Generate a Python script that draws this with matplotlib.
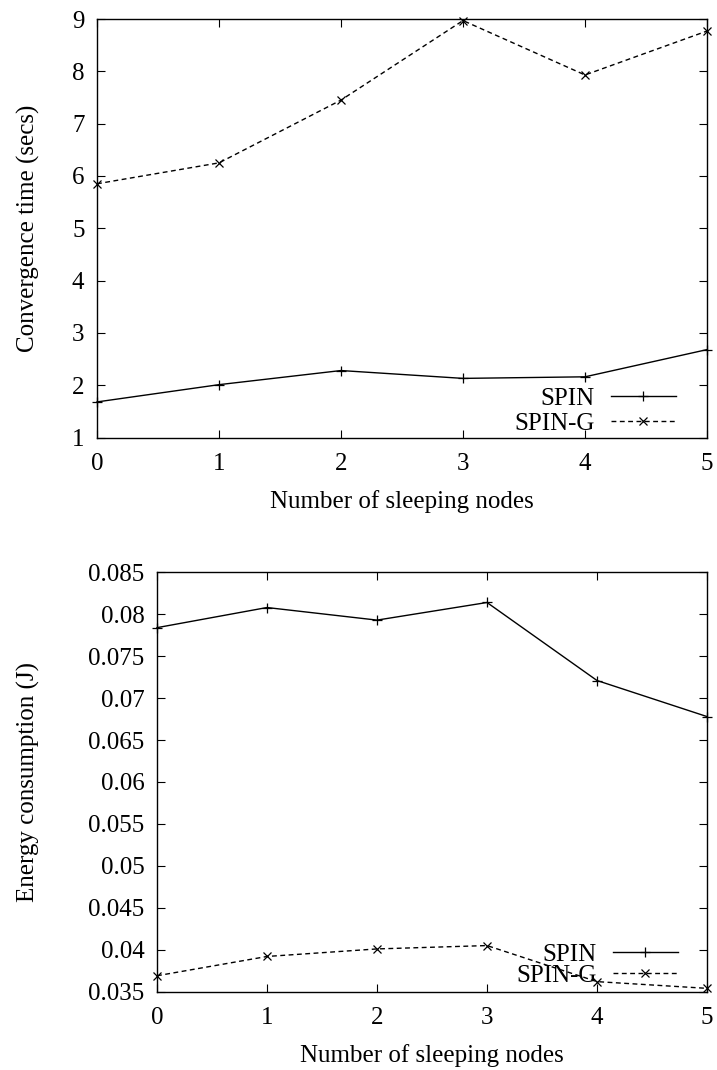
import matplotlib
matplotlib.use("Agg")
import matplotlib.pyplot as plt

plt.rcParams['font.family'] = ['Liberation Serif', 'DejaVu Serif']
plt.rcParams['font.size'] = 18

sleeping_nodes = [0, 1, 2, 3, 4, 5]

conv_spin = [1.68, 2.01, 2.28, 2.13, 2.16, 2.68]
conv_spin_g = [5.85, 6.25, 7.45, 8.97, 7.93, 8.77]

energy_spin = [0.0784, 0.0808, 0.0793, 0.0814, 0.0721, 0.0678]
energy_spin_g = [0.0369, 0.0392, 0.0401, 0.0405, 0.0362, 0.0354]

conv_yticks = [1, 2, 3, 4, 5, 6, 7, 8, 9]
energy_yticks = [0.035, 0.04, 0.045, 0.05, 0.055, 0.06, 0.065, 0.07, 0.075, 0.08, 0.085]
energy_yticklabels = ['0.035', '0.04', '0.045', '0.05', '0.055', '0.06',
                      '0.065', '0.07', '0.075', '0.08', '0.085']

W, H = 717, 1070
fig = plt.figure(figsize=(W / 100, H / 100), dpi=100)

ax1 = fig.add_axes([97 / W, 1 - 437.5 / H, 610 / W, 418.5 / H])
ax2 = fig.add_axes([157 / W, 1 - 991.7 / H, 550 / W, 419.4 / H])

dash = (0, (3.5, 2.5))


def style(ax, ylabel, yticks, ylim, yticklabels=None, legend_y=-0.02, spacing=0.2):
    ax.set_xlim(0, 5)
    ax.set_ylim(*ylim)
    ax.set_xticks(sleeping_nodes)
    ax.set_yticks(yticks)
    if yticklabels is not None:
        ax.set_yticklabels(yticklabels)
    ax.tick_params(direction='in', length=6, width=0.8, top=True, right=True,
                   labelsize=18)
    ax.tick_params(axis='x', pad=11)
    ax.tick_params(axis='y', pad=9)
    for s in ax.spines.values():
        s.set_linewidth(1.0)
    ax.set_xlabel('Number of sleeping nodes', fontsize=18, labelpad=11)
    ax.set_ylabel(ylabel, fontsize=18)
    pos = ax.get_position()
    ax.yaxis.set_label_coords(40 / W, 0.5 * (pos.y0 + pos.y1),
                              transform=fig.transFigure)
    ax.legend(loc='lower right', frameon=False, markerfirst=False, numpoints=1,
              handlelength=2.6, handletextpad=0.65, labelspacing=spacing,
              borderaxespad=0.0, fontsize=18, bbox_to_anchor=(0.965, legend_y))


ax1.plot(sleeping_nodes, conv_spin, color='black', lw=1.0, marker='+',
         markersize=7, markeredgewidth=0.9, label='SPIN', clip_on=False)
ax1.plot(sleeping_nodes, conv_spin_g, color='black', lw=1.0, linestyle=dash,
         marker='x', markersize=6, markeredgewidth=0.9, label='SPIN-G', clip_on=False)
style(ax1, 'Convergence time (secs)', conv_yticks, (1, 9), legend_y=-0.018, spacing=0.1)

ax2.plot(sleeping_nodes, energy_spin, color='black', lw=1.0, marker='+',
         markersize=7, markeredgewidth=0.9, label='SPIN', clip_on=False)
ax2.plot(sleeping_nodes, energy_spin_g, color='black', lw=1.0, linestyle=dash,
         marker='x', markersize=6, markeredgewidth=0.9, label='SPIN-G', clip_on=False)
style(ax2, 'Energy consumption (J)', energy_yticks, (0.035, 0.085), energy_yticklabels,
      legend_y=-0.012, spacing=-0.08)

fig.savefig('out.png', dpi=100)
